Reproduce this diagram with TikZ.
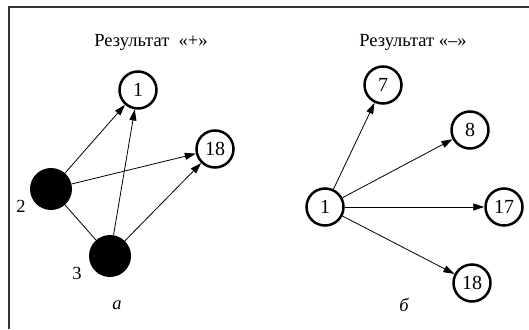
\documentclass[tikz,border=0pt]{standalone}
\usepackage{fontspec}
\setmainfont{Liberation Serif}
\usetikzlibrary{arrows.meta}

\tikzset{
  vertex/.style={circle, draw, line width=2.5pt, minimum size=37pt, inner sep=0pt, font=\fontsize{20}{20}\selectfont},
  blackvertex/.style={circle, fill=black, minimum size=42pt, inner sep=0pt},
  edge/.style={line width=0.8pt, -{Triangle[length=11pt,width=7pt]}}
}

\begin{document}
\begin{tikzpicture} [x=1pt, y=-1pt, font=\fontsize{18.5}{18.5}\selectfont]

\useasboundingbox (0,0) rectangle (529,329);
\draw [line width=2pt, black!80] (529,7.5) -- (9,7.5) -- (9,329);

% left part
\node (t1) at (151,42) {Результат \ «+»};
\node [vertex] (a1) at (138,90) {1};
\node [vertex] (a18) at (215,149) {18};
\node [blackvertex] (a2) at (51,189) {};
\node [blackvertex] (a3) at (110,256) {};
\node (l2) at (21,206) {2};
\node (l3) at (77,273) {3};
\node (ta) at (117,305) {\itshape а};

\draw [edge] (a2) -- (a1);
\draw [edge] (a2) -- (a18);
\draw [line width=0.8pt] (a2) -- (a3);
\draw [edge] (a3) -- (a1);
\draw [edge] (a3) -- (a18);

% right part
\node (t2) at (413,42) {Результат «–»};
\node [vertex] (b1) at (325,207) {1};
\node [vertex] (b7) at (383,85) {7};
\node [vertex] (b8) at (470,130) {8};
\node [vertex] (b17) at (504,207) {17};
\node [vertex] (b18) at (472,283) {18};
\node (tb) at (404,305) {\itshape б};

\draw [edge] (b1) -- (b7);
\draw [edge] (b1) -- (b8);
\draw [edge] (b1) -- (b17);
\draw [edge] (b1) -- (b18);

\end{tikzpicture}
\end{document}
